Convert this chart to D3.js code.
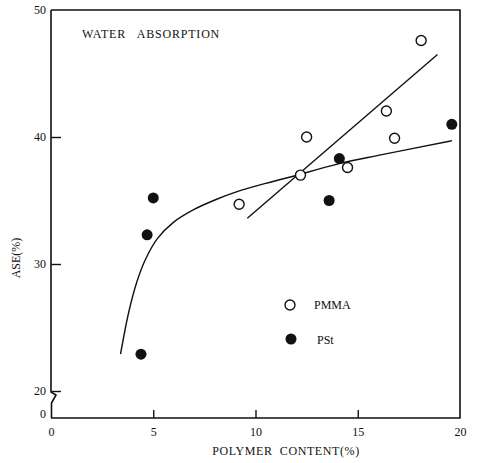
<!DOCTYPE html>
<html>
<head>
<meta charset="utf-8">
<script src="https://cdn.jsdelivr.net/npm/d3@7"></script>
<style>
  body { margin: 0; background: #fff; }
  svg text { font-family: "Liberation Serif", "Times New Roman", "DejaVu Serif", serif; fill: #111; }
</style>
</head>
<body>
<div id="chart"></div>
<script>
// data
const pmmaX = [9.2, 12.2, 12.5, 14.5, 16.4, 16.8, 18.1];
const pmmaY = [34.7, 37.0, 40.0, 37.6, 42.05, 39.9, 47.6];
const pstX = [4.4, 4.7, 5.0, 13.6, 14.1, 19.6];
const pstY = [22.9, 32.3, 35.2, 35.0, 38.3, 41.0];

// fitted lines drawn in the figure
const pmmaFit = [[9.6, 33.6], [18.9, 46.5]];
const pstFitX = [3.4, 3.8, 4.2, 4.6, 5.2, 6.0, 7.0, 8.1, 9.1, 10.5, 11.7, 14.1, 16.0, 19.6];
const pstFitY = [22.9, 26.2, 28.6, 30.3, 32.0, 33.3, 34.3, 35.1, 35.7, 36.35, 36.85, 37.9, 38.55, 39.7];

const xTicks = [0, 5, 10, 15, 20];
const yTicks = [20, 30, 40, 50];

const serif = '"Liberation Serif", "Times New Roman", "DejaVu Serif", serif';

const width = 477, height = 463;
const svg = d3.select('#chart').append('svg')
    .attr('width', width)
    .attr('height', height)
    .attr('font-family', serif);

const x = d3.scaleLinear().domain([0, 20]).range([51, 460]);
const y = d3.scaleLinear().domain([20, 50]).range([391, 10]);
const yZero = 418;

// frame: top, right, bottom
svg.append('path')
    .attr('d', `M${x(0)},${y(50)}H${x(20)}V${yZero}H${x(0)}`)
    .attr('fill', 'none')
    .attr('stroke', '#111')
    .attr('stroke-width', 1.6);

// left axis with the break
svg.append('path')
    .attr('d', `M${x(0)},${y(50)}V${y(20) + 1}L${x(0) + 5},${y(20) + 4}L${x(0) + 0.5},${y(20) + 12}V${yZero}`)
    .attr('fill', 'none')
    .attr('stroke', '#111')
    .attr('stroke-width', 1.6);

// y axis ticks and labels
const yAxis = svg.append('g')
    .attr('transform', `translate(${x(0)},0)`)
    .call(d3.axisLeft(y).tickValues(yTicks).tickSize(-10).tickPadding(5).tickFormat(d3.format('d')));
yAxis.attr('font-family', serif);
yAxis.select('.domain').remove();
yAxis.selectAll('line').attr('stroke', '#111').attr('stroke-width', 1.4);
yAxis.selectAll('text').attr('font-size', 12).attr('fill', '#111');
yAxis.selectAll('.tick').filter(d => d === 50).select('line').remove();

// the "0" under the break
svg.append('text')
    .attr('x', x(0) - 5)
    .attr('y', yZero - 4)
    .attr('text-anchor', 'end')
    .attr('dy', '0.32em')
    .attr('font-size', 12)
    .text('0');

// x axis ticks and labels
const xAxis = svg.append('g')
    .attr('transform', `translate(0,${yZero})`)
    .call(d3.axisBottom(x).tickValues(xTicks).tickSize(-8).tickPadding(9).tickFormat(d3.format('d')));
xAxis.attr('font-family', serif);
xAxis.select('.domain').remove();
xAxis.selectAll('line').attr('stroke', '#111').attr('stroke-width', 1.4);
xAxis.selectAll('.tick').filter(d => d === 0 || d === 20).select('line').remove();
xAxis.selectAll('text').attr('font-size', 12).attr('fill', '#111');

// axis titles
svg.append('text')
    .attr('x', 286)
    .attr('y', 455)
    .attr('text-anchor', 'middle')
    .attr('font-size', 12)
    .style('letter-spacing', '0.6px')
    .style('white-space', 'pre')
    .text('POLYMER  CONTENT(%)');

svg.append('text')
    .attr('transform', 'translate(20,258) rotate(-90)')
    .attr('text-anchor', 'middle')
    .attr('font-size', 12)
    .text('ASE(%)');

svg.append('text')
    .attr('x', 82)
    .attr('y', 38)
    .attr('font-size', 12)
    .style('letter-spacing', '0.8px')
    .style('white-space', 'pre')
    .text('WATER   ABSORPTION');

// fitted lines
svg.append('path')
    .attr('d', d3.line().x(d => x(d[0])).y(d => y(d[1]))(pmmaFit))
    .attr('fill', 'none')
    .attr('stroke', '#111')
    .attr('stroke-width', 1.4);

const pstFit = pstFitX.map((v, i) => [v, pstFitY[i]]);
svg.append('path')
    .attr('d', d3.line().x(d => x(d[0])).y(d => y(d[1])).curve(d3.curveCatmullRom.alpha(0.5))(pstFit))
    .attr('fill', 'none')
    .attr('stroke', '#111')
    .attr('stroke-width', 1.4);

// points
svg.selectAll('.pmma')
    .data(pmmaX.map((v, i) => [v, pmmaY[i]]))
    .join('circle')
    .attr('class', 'pmma')
    .attr('cx', d => x(d[0]))
    .attr('cy', d => y(d[1]))
    .attr('r', 5)
    .attr('fill', '#fff')
    .attr('stroke', '#111')
    .attr('stroke-width', 1.4);

svg.selectAll('.pst')
    .data(pstX.map((v, i) => [v, pstY[i]]))
    .join('circle')
    .attr('class', 'pst')
    .attr('cx', d => x(d[0]))
    .attr('cy', d => y(d[1]))
    .attr('r', 5.5)
    .attr('fill', '#111');

// legend
const legend = svg.append('g');
legend.append('circle').attr('cx', 290).attr('cy', 305).attr('r', 5)
    .attr('fill', '#fff').attr('stroke', '#111').attr('stroke-width', 1.4);
legend.append('text').attr('x', 314).attr('y', 305).attr('dy', '0.35em')
    .attr('font-size', 12).text('PMMA');
legend.append('circle').attr('cx', 291).attr('cy', 339).attr('r', 5.5)
    .attr('fill', '#111');
legend.append('text').attr('x', 317).attr('y', 340).attr('dy', '0.35em')
    .attr('font-size', 12).text('PSt');
</script>
</body>
</html>
